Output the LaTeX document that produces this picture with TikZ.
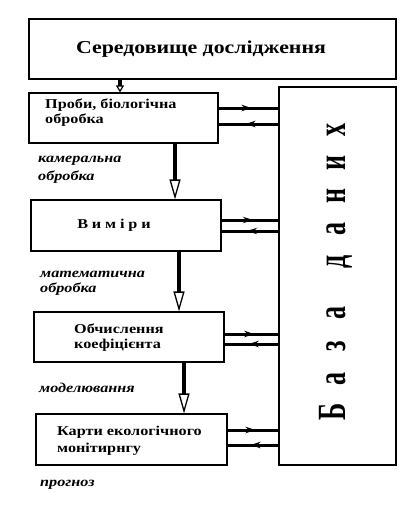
\documentclass[tikz,border=0pt]{standalone}
\usepackage{fontspec}
\setmainfont{Liberation Serif}
\usetikzlibrary{arrows.meta,decorations.markings}
\newcommand{\wide}[1]{\scalebox{1.2}[1]{#1}}
\tikzset{
  box/.style={draw, line width=1.1pt, minimum width=#1, inner sep=0pt},
  lbl/.style={anchor=west, font=\fontsize{13.5}{15}\selectfont\bfseries, inner sep=0pt},
  side/.style={anchor=west, font=\fontsize{13.5}{15.5}\selectfont\bfseries\itshape, inner sep=0pt},
  down/.style={line width=3.8pt, -{Triangle[open, length=20pt, width=11pt, line width=1.3pt]}},
  smalldown/.style={line width=3.2pt, -{Triangle[open, length=7pt, width=8pt, line width=1.2pt]}},
  todb/.style={line width=3pt, postaction={decorate},
    decoration={markings, mark=at position 0.55 with {\arrow{Stealth[length=10pt, width=6.5pt]}}}},
}
\begin{document}
\begin{tikzpicture}[x=1pt, y=-1pt]
\useasboundingbox (0,0) rectangle (417,519);
% top box
\node[box=367pt, minimum height=60pt] (top) at (212.5,49) {};
\node[font=\fontsize{18.2}{20}\selectfont\bfseries, inner sep=0pt] (toptxt) at (201,49) {\wide{Середовище дослідження}};
% database
\node[box=117pt, minimum height=378pt] (db) at (337.5,276) {};
\node[rotate=90, inner sep=0pt, font=\fontsize{40}{40}\selectfont\bfseries] (dbtxt) at (336,271)
 {\scalebox{0.65}[1]{\makebox[50.8pt]{Б}\makebox[50.8pt]{а}\makebox[50.8pt]{з}\makebox[50.8pt]{а}\hspace{27pt}\makebox[50.8pt]{д}\makebox[50.8pt]{а}\makebox[50.8pt]{н}\makebox[50.8pt]{и}\makebox[50.8pt]{х}}};
% boxes
\node[box=189pt, minimum height=50pt] (b1) at (123.5,118) {};
\node[lbl] (t1a) at (45,105) {\wide{Проби, біологічна}};
\node[lbl] (t1b) at (45,120) {\wide{обробка}};
\node[box=190pt, minimum height=51pt] (b2) at (126,225.5) {};
\node[font=\fontsize{13.5}{15}\selectfont\bfseries, inner sep=0pt] (t2) at (114,225) {\wide{В\hspace{0.24em}и\hspace{0.24em}м\hspace{0.24em}і\hspace{0.24em}р\hspace{0.24em}и}};
\node[box=190pt, minimum height=50pt] (b3) at (129,337) {};
\node[lbl] (t3a) at (74,329) {\wide{Обчислення}};
\node[lbl] (t3b) at (74,345) {\wide{коефіцієнта}};
\node[box=191pt, minimum height=51pt] (b4) at (131.5,439.5) {};
\node[lbl] (t4a) at (57,432) {\wide{Карти екологічного}};
\node[lbl] (t4b) at (57,449) {\wide{монітирнгу}};
% side labels
\node[side] (s1a) at (38,161) {\wide{камеральна}};
\node[side] (s1b) at (38,177) {\wide{обробка}};
\node[side] (s2a) at (40,274) {\wide{математична}};
\node[side] (s2b) at (40,289) {\wide{обробка}};
\node[side] (s3) at (39,388) {\wide{моделювання}};
\node[side] (s4) at (40,485) {\wide{прогноз}};
% vertical arrows
\draw[smalldown] (top.south -| 120,0) -- (b1.north -| 120,0);
\draw[down] (b1.south -| 175,0) -- (b2.north -| 175,0);
\draw[down] (b2.south -| 179,0) -- (b3.north -| 179,0);
\draw[down] (b3.south -| 184,0) -- (b4.north -| 184,0);
% horizontal arrows
\draw[todb] (b1.east |- 0,108) -- (db.west |- 0,108);
\draw[todb] (db.west |- 0,124) -- (b1.east |- 0,124);
\draw[todb] (b2.east |- 0,220) -- (db.west |- 0,220);
\draw[todb] (db.west |- 0,231) -- (b2.east |- 0,231);
\draw[todb] (b3.east |- 0,334) -- (db.west |- 0,334);
\draw[todb] (db.west |- 0,344) -- (b3.east |- 0,344);
\draw[todb] (b4.east |- 0,430) -- (db.west |- 0,430);
\draw[todb] (db.west |- 0,445) -- (b4.east |- 0,445);
\end{tikzpicture}
\end{document}
